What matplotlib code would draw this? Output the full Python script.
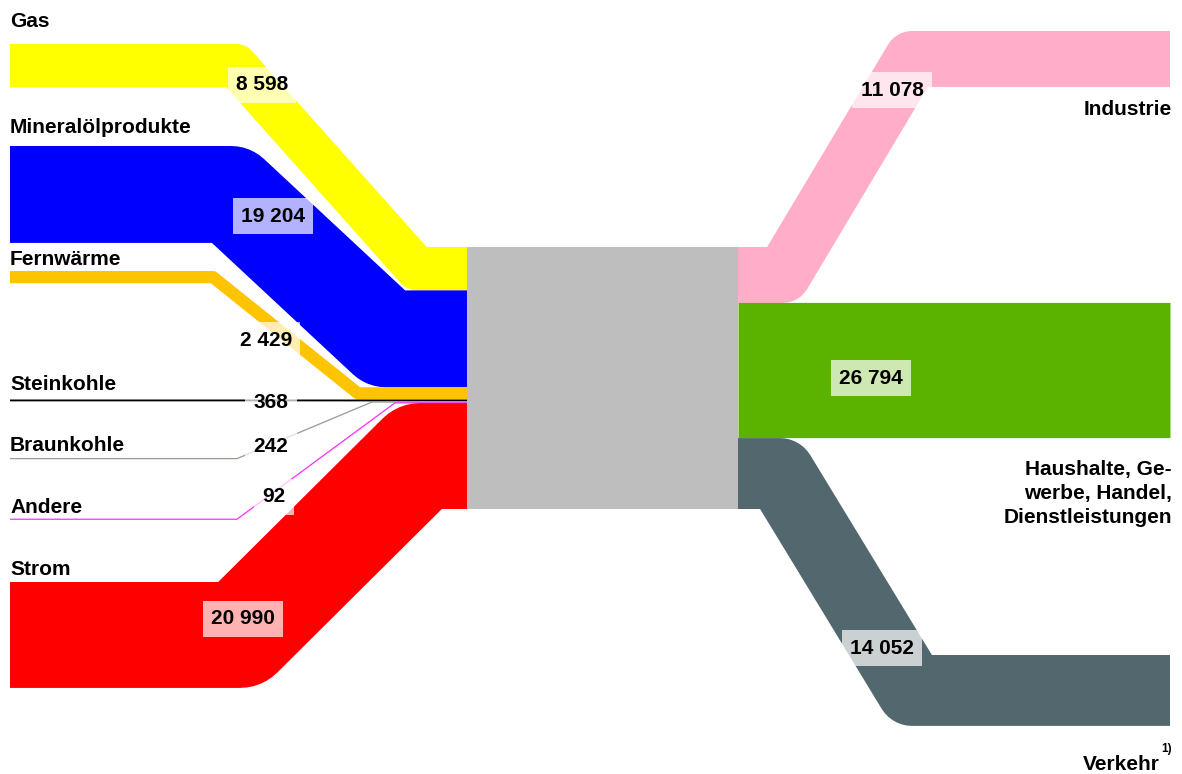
import matplotlib.pyplot as plt

# Endenergieverbrauch nach Energieträgern und Sektoren
sources = ['Gas', 'Mineralölprodukte', 'Fernwärme', 'Steinkohle', 'Braunkohle', 'Andere', 'Strom']
src_values = [8598, 19204, 2429, 368, 242, 92, 20990]
src_labels = ['8 598', '19 204', '2 429', '368', '242', '92', '20 990']
src_colors = ['#FFFF00', '#0000FF', '#FFC400', '#000000', '#8FA38F', '#FF33FF', '#FF0000']

targets = ['Industrie', 'Haushalte, Ge-\nwerbe, Handel,\nDienstleistungen', 'Verkehr']
tgt_values = [11078, 26794, 14052]
tgt_labels = ['11 078', '26 794', '14 052']
tgt_colors = ['#FFADC8', '#5BB300', '#52686E']

# layout (pixel coordinates)
W, H, DPI = 1182, 774, 100
box_x0, box_x1, box_top, box_h = 467, 738, 247, 262
left_x, right_x = 10, 1170
src_top = [44, 146, 271, 399.5, 458, 519, 582]
src_bend = [(236, 417), (231, 386), (213, 358), (300, 380), (237, 372), (237, 395), (240, 420)]
src_name_y = [27, 133, 265, 390, 451, 513, 575]
src_val_xy = [(262, 85), (273, 216), (266, 340), (271, 402), (271, 447), (274, 497), (243, 619)]
tgt_top = [31, None, 655]
tgt_bend = [(783, 912), None, (780, 912)]
tgt_name_y = [115, 523, 770]
tgt_val_xy = [(892, 90), (871, 378), (882, 648)]

plt.rcParams['font.family'] = ['Liberation Sans', 'DejaVu Sans']
plt.rcParams['font.weight'] = 'bold'
fs = 15

fig = plt.figure(figsize=(W / DPI, H / DPI), dpi=DPI)
ax = fig.add_axes([0, 0, 1, 1])
ax.set_xlim(0, W)
ax.set_ylim(H, 0)
ax.axis('off')

px2pt = 72 / DPI
scale = box_h / sum(src_values)


def band(xs, ys, h, color, z):
    ax.plot(xs, ys, color=color, lw=max(h, 1.3) * px2pt,
            solid_joinstyle='round', solid_capstyle='butt', zorder=z)


def value_box(x, y, txt):
    ax.text(x, y, txt, ha='center', va='center', fontsize=fs, zorder=10,
            bbox=dict(boxstyle='square,pad=0.4', fc='white', ec='none', alpha=0.7))


# left side: energy carriers
y = box_top
for i, v in enumerate(src_values):
    h = v * scale
    yc = y + h / 2
    y += h
    yl = src_top[i] + h / 2
    xa, xb = src_bend[i]
    band([left_x, xa, xb, box_x0], [yl, yl, yc, yc], h, src_colors[i], 3 + i * 0.1)
    ax.text(left_x, src_name_y[i], sources[i], ha='left', va='baseline', fontsize=fs)
    value_box(*src_val_xy[i], src_labels[i])

ax.add_patch(plt.Rectangle((box_x0, box_top), box_x1 - box_x0, box_h,
                           fc='#BEBEBE', ec='none', zorder=4))

# right side: sectors
y = box_top
for i, v in enumerate(tgt_values):
    h = v * scale
    yc = y + h / 2
    y += h
    if tgt_bend[i] is None:
        band([box_x1, right_x], [yc, yc], h, tgt_colors[i], 3)
    else:
        yr = tgt_top[i] + h / 2
        xa, xb = tgt_bend[i]
        band([box_x1, xa, xb, right_x], [yc, yc, yr, yr], h, tgt_colors[i], 3)
    value_box(*tgt_val_xy[i], tgt_labels[i])

ax.text(1172, tgt_name_y[0], targets[0], ha='right', va='baseline', fontsize=fs)
ax.text(1172, tgt_name_y[1], targets[1], ha='right', va='baseline', fontsize=fs,
        multialignment='right', linespacing=1.34)
ax.text(1160, tgt_name_y[2], targets[2], ha='right', va='baseline', fontsize=fs)
ax.text(1161, 752, '1)', ha='left', va='baseline', fontsize=8.5)

fig.savefig('out.png', dpi=DPI)
